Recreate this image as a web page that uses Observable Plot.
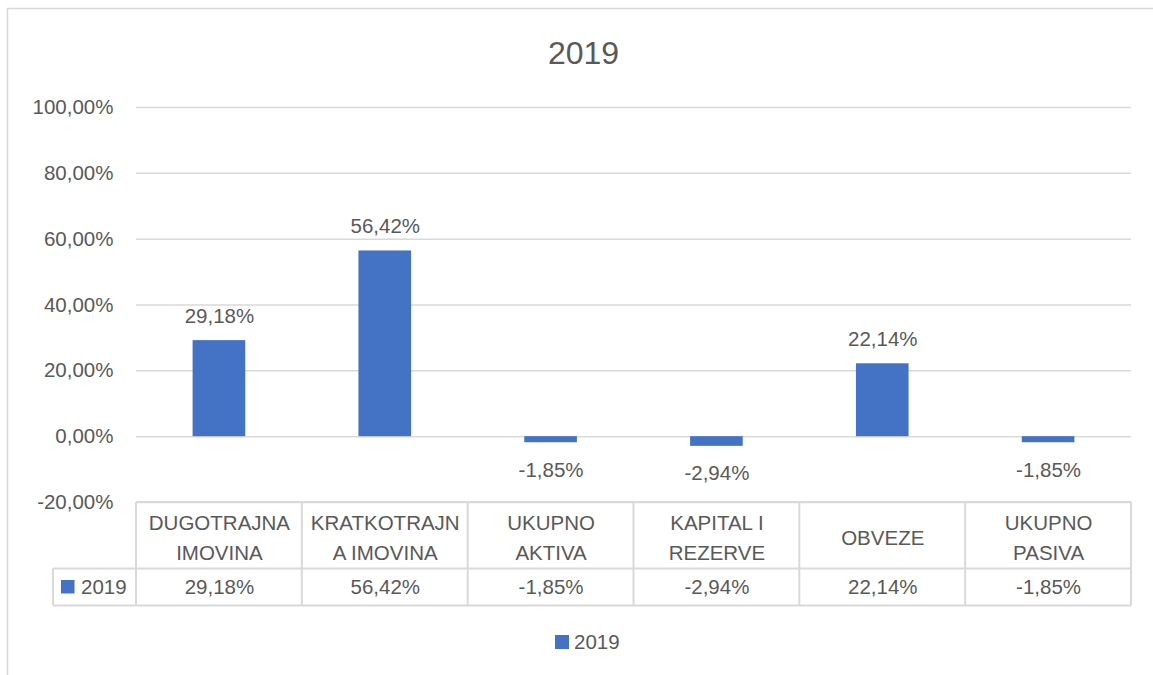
<!DOCTYPE html>
<html><head><meta charset="utf-8">
<script src="https://cdn.jsdelivr.net/npm/d3@7"></script>
<script src="https://cdn.jsdelivr.net/npm/@observablehq/plot@0.6"></script>
<style>body{margin:0;background:#fff;overflow:hidden;}</style>
</head><body><div id="chart"></div>
<script>
const categories = ["DUGOTRAJNA IMOVINA","KRATKOTRAJNA IMOVINA","UKUPNO AKTIVA","KAPITAL I REZERVE","OBVEZE","UKUPNO PASIVA"];
const headerLabels = ["DUGOTRAJNA\nIMOVINA","KRATKOTRAJN\nA IMOVINA","UKUPNO\nAKTIVA","KAPITAL I\nREZERVE","OBVEZE","UKUPNO\nPASIVA"];
const values2019 = [29.18, 56.42, -1.85, -2.94, 22.14, -1.85];
const yTicks = [-20, 0, 20, 40, 60, 80, 100];
const seriesName = "2019";
const chartTitle = "2019";

const BLUE = "#4472C4", TEXT = "#595959", GRID = "#d9d9d9";
const FONT = "'Liberation Sans', Arial, sans-serif";
const fmt = v => v.toFixed(2).replace(".", ",") + "%";

const data = categories.map((c, i) => ({cat: c, header: headerLabels[i], value: values2019[i]}));

const W = 1153, H = 675;
const mL = 136, mR = 22, mT = 107, mB = 173;

const plot = Plot.plot({
  width: W, height: H,
  marginLeft: mL, marginRight: mR, marginTop: mT, marginBottom: mB,
  style: {fontFamily: FONT, fontSize: "20.5px", color: TEXT, background: "transparent"},
  x: {domain: categories, padding: 0, round: false, axis: null},
  y: {domain: [-20, 100], axis: null},
  marks: [
    Plot.gridY(yTicks, {stroke: GRID, strokeOpacity: 1, strokeWidth: 1.5}),
    Plot.axisY({ticks: yTicks, tickFormat: fmt, tickSize: 0, tickPadding: 23, fontSize: 20.5, fill: TEXT, label: null}),
    Plot.barY(data, {x: "cat", y: "value", fill: BLUE, insetLeft: 56.6, insetRight: 56.6}),
    Plot.text(data.filter(d => d.value >= 0), {x: "cat", y: "value", text: d => fmt(d.value), lineAnchor: "bottom", dy: -18, fill: TEXT, fontSize: 20.5}),
    Plot.text(data.filter(d => d.value < 0), {x: "cat", y: "value", text: d => fmt(d.value), lineAnchor: "top", dy: 19.5, fill: TEXT, fontSize: 20.5}),
    // data table: header row and value row
    Plot.text(data, {x: "cat", text: "header", frameAnchor: "bottom", dy: 33, lineAnchor: "middle", lineHeight: 1.44, fill: TEXT, fontSize: 20.5}),
    Plot.text(data, {x: "cat", text: d => fmt(d.value), frameAnchor: "bottom", dy: 85, lineAnchor: "middle", fill: TEXT, fontSize: 20.5})
  ]
});

const svg = d3.select(plot);
svg.style("overflow", "visible");
const xs = plot.scale("x");
const bw = xs.bandwidth;
const yTop = H - mB;          // table top (= -20% line)
const yMid = 568.5, yBot = 605.5, xLeftCell = 53;

const g = svg.insert("g", ":first-child");
// outer chart border
g.append("rect").attr("x", 7.5).attr("y", 8.5).attr("width", 1160).attr("height", 700)
  .attr("fill", "white").attr("stroke", GRID).attr("stroke-width", 1.5);

const tg = svg.append("g").attr("stroke", GRID).attr("stroke-width", 2).attr("fill", "none");
const x0 = xs.apply(categories[0]);
const x1 = xs.apply(categories[categories.length - 1]) + bw;
tg.append("line").attr("x1", x0).attr("x2", x1).attr("y1", yTop).attr("y2", yTop);
tg.append("line").attr("x1", xLeftCell).attr("x2", x1).attr("y1", yMid).attr("y2", yMid);
tg.append("line").attr("x1", xLeftCell).attr("x2", x1).attr("y1", yBot).attr("y2", yBot);
tg.append("line").attr("x1", xLeftCell).attr("x2", xLeftCell).attr("y1", yMid).attr("y2", yBot);
categories.forEach(c => {
  const xx = xs.apply(c);
  tg.append("line").attr("x1", xx).attr("x2", xx).attr("y1", yTop).attr("y2", yBot);
});
tg.append("line").attr("x1", x1).attr("x2", x1).attr("y1", yTop).attr("y2", yBot);

// series key in table
svg.append("rect").attr("x", 61).attr("y", 580).attr("width", 13.5).attr("height", 13.5).attr("fill", BLUE);
svg.append("text").attr("x", 81).attr("y", 594).attr("text-anchor", "start").attr("fill", TEXT).attr("font-size", 20.5).attr("font-family", FONT).text(seriesName);

// legend
svg.append("rect").attr("x", 555).attr("y", 635).attr("width", 14).attr("height", 14).attr("fill", BLUE);
svg.append("text").attr("x", 574).attr("y", 649).attr("text-anchor", "start").attr("fill", TEXT).attr("font-size", 20.5).attr("font-family", FONT).text(seriesName);

// title
svg.append("text").attr("x", 583.5).attr("y", 64.3).attr("text-anchor", "middle").attr("fill", TEXT)
  .attr("font-size", 32).attr("font-family", FONT).text(chartTitle);

document.getElementById("chart").appendChild(plot);
</script>
</body></html>
